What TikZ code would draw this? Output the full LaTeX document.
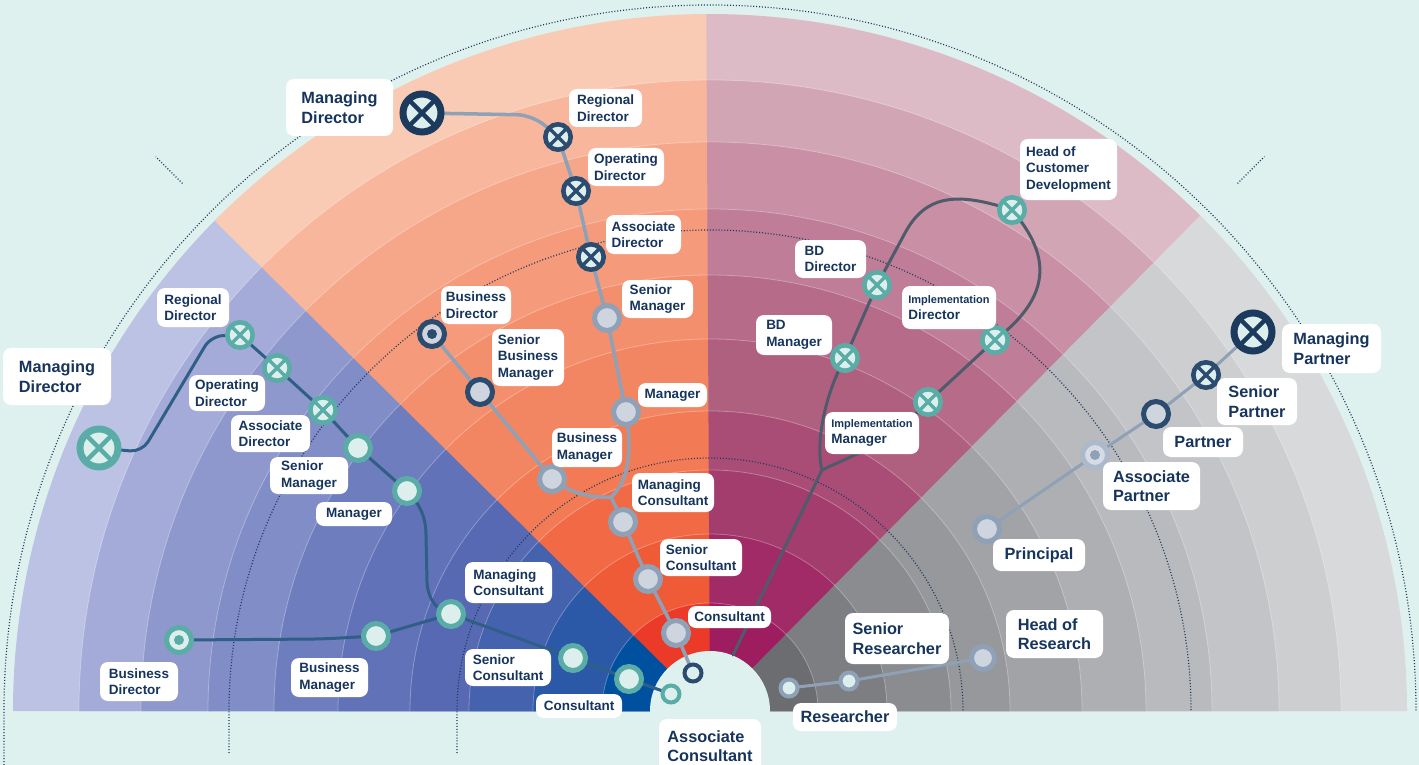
\documentclass[tikz,border=0pt]{standalone}
\usepackage{fontspec}
\setmainfont{Liberation Sans}
\usetikzlibrary{calc}

\definecolor{bgmint}{HTML}{DFF1EE}
\definecolor{mint}{HTML}{DCEFED}
\definecolor{navyd}{HTML}{1B3A5E}
\definecolor{navym}{HTML}{2C4C6F}
\definecolor{gblue}{HTML}{8FA1B6}
\definecolor{gfill}{HTML}{CFD5DF}
\definecolor{aplight}{HTML}{ABB9CA}
\definecolor{apfill}{HTML}{D6DCE5}
\definecolor{tealc}{HTML}{5AADA7}
\definecolor{txt}{HTML}{17345C}
\definecolor{bluel}{HTML}{2F5F86}
\definecolor{slatel}{HTML}{4F5A6A}
% ring colours, innermost (1) to outermost (10)
\definecolor{rb1}{HTML}{0050A0}\definecolor{rb2}{HTML}{2B58A7}\definecolor{rb3}{HTML}{4462AD}
\definecolor{rb4}{HTML}{5769B3}\definecolor{rb5}{HTML}{6272B8}\definecolor{rb6}{HTML}{6E7DBE}
\definecolor{rb7}{HTML}{808DC6}\definecolor{rb8}{HTML}{8E98CC}\definecolor{rb9}{HTML}{A4ABD8}
\definecolor{rb10}{HTML}{BCC2E3}
\definecolor{ro1}{HTML}{EC3A28}\definecolor{ro2}{HTML}{EF5A37}\definecolor{ro3}{HTML}{F16A45}
\definecolor{ro4}{HTML}{F27B55}\definecolor{ro5}{HTML}{F38662}\definecolor{ro6}{HTML}{F48F6D}
\definecolor{ro7}{HTML}{F59B7C}\definecolor{ro8}{HTML}{F6A689}\definecolor{ro9}{HTML}{F8B79D}
\definecolor{ro10}{HTML}{F9CAB4}
\definecolor{rp1}{HTML}{9E1C60}\definecolor{rp2}{HTML}{A12B66}\definecolor{rp3}{HTML}{A33D6D}
\definecolor{rp4}{HTML}{A94C76}\definecolor{rp5}{HTML}{B0607F}\definecolor{rp6}{HTML}{B66C89}
\definecolor{rp7}{HTML}{BF7D97}\definecolor{rp8}{HTML}{C88FA5}\definecolor{rp9}{HTML}{D2A5B4}
\definecolor{rp10}{HTML}{DCBBC7}
\definecolor{rg1}{HTML}{6C6D71}\definecolor{rg2}{HTML}{7D7E82}\definecolor{rg3}{HTML}{8B8C90}
\definecolor{rg4}{HTML}{97989C}\definecolor{rg5}{HTML}{A2A3A7}\definecolor{rg6}{HTML}{AEAFB2}
\definecolor{rg7}{HTML}{B9BABD}\definecolor{rg8}{HTML}{C3C4C7}\definecolor{rg9}{HTML}{CDCED0}
\definecolor{rg10}{HTML}{D8D9DB}

\pgfdeclarelayer{rings}
\pgfdeclarelayer{links}
\pgfsetlayers{rings,links,main}

\tikzset{
  ringbase/.style 2 args={circle, inner sep=0pt, outer sep=0pt, draw=#1, fill=#2},
  bigx/.style={ringbase={#1}{mint}, line width=7pt, minimum size=38pt,
    path picture={\draw[#1, line width=4.5pt]
      (path picture bounding box.north west) -- (path picture bounding box.south east)
      (path picture bounding box.north east) -- (path picture bounding box.south west);}},
  smallx/.style={ringbase={#1}{mint}, line width=4.6pt, minimum size=25.4pt,
    path picture={\draw[#1, line width=3.4pt]
      (path picture bounding box.north west) -- (path picture bounding box.south east)
      (path picture bounding box.north east) -- (path picture bounding box.south west);}},
  ringnode/.style 2 args={ringbase={#1}{#2}, line width=5pt, minimum size=25pt},
  dotring/.style n args={3}{ringbase={#1}{#2}, line width=5pt, minimum size=25pt,
    path picture={\fill[#3] (path picture bounding box.center) circle[radius=5pt];}},
  smallring/.style 2 args={ringbase={#1}{#2}, line width=4pt, minimum size=17pt},
  dotl/.style={draw=navyd, line width=1.2pt, dash pattern=on 1pt off 1.9pt},
  oline/.style={draw=gblue, line width=3.5pt, line cap=round},
  bline/.style={draw=bluel, line width=3pt, line cap=round},
  pline/.style={draw=slatel, line width=3pt, line cap=round},
  gline/.style={draw=gblue, line width=3pt, line cap=round},
  lab/.style 2 args={fill=white, rounded corners=8pt, text=txt, align=left,
    inner sep=0pt, minimum width=#1pt, minimum height=#2pt},
  labs/.style 2 args={lab={#1}{#2}, font=\bfseries\fontsize{13.5pt}{16.5pt}\selectfont},
  labb/.style 2 args={lab={#1}{#2}, font=\bfseries\fontsize{16.3pt}{19.5pt}\selectfont},
}

\begin{document}
\begin{tikzpicture}[x=1pt,y=-1pt]
\useasboundingbox (0,0) rectangle (1419,765);

% ---------- fan of career rings ----------
\begin{pgfonlayer}{rings}
\fill[bgmint] (0,0) rectangle (1419,765);
\begin{scope}[shift={(710,711)}]
  \foreach \r/\k in {697/10,631/9,569/8,502/7,436/6,372/5,300/4,241/3,177/2,108/1}{
    \fill[fill=rb\k] (0,0) -- (180:\r) arc[start angle=180,end angle=225.3,radius=\r] -- cycle;
    \fill[fill=ro\k] (0,0) -- (224.7:\r) arc[start angle=224.7,end angle=270.3,radius=\r] -- cycle;
    \fill[fill=rp\k] (0,0) -- (269.7:\r) arc[start angle=269.7,end angle=315.3,radius=\r] -- cycle;
    \fill[fill=rg\k] (0,0) -- (314.7:\r) arc[start angle=314.7,end angle=360,radius=\r] -- cycle;
  }
  \foreach \r in {108,177,241,300,372,436,502,569,631}
    \draw[white, opacity=.3, line width=.8pt] (180:\r) arc[start angle=180,end angle=360,radius=\r];
  \fill[bgmint] (0,0) circle[radius=60];
  % dotted guide arcs
  \draw[dotl] (-706,54) -- (180:706) arc[start angle=180,end angle=360,radius=706];
  \draw[dotl] (-481,42) -- (180:481) arc[start angle=180,end angle=360,radius=481];
  \draw[dotl] (-253,42) -- (180:253) arc[start angle=180,end angle=360,radius=253];
  \draw[dotl] (225:746) -- (225:784);
  \draw[dotl] (315:746) -- (315:784);
\end{scope}
\end{pgfonlayer}

% ---------- orange track ----------
\node[bigx=navyd] (mdo) at (422,113) {};
\node[smallx=navym] (rdo) at (558,137) {};
\node[smallx=navym] (odo) at (576,191) {};
\node[smallx=navym] (ado) at (591,257) {};
\node[ringnode={gblue}{gfill}] (smo) at (607,318) {};
\node[ringnode={gblue}{gfill}] (mo) at (626,412) {};
\node[dotring={navym}{gfill}{navym}] (bdo) at (432,334) {};
\node[ringnode={navym}{gfill}] (sbmo) at (480,392) {};
\node[ringnode={gblue}{gfill}] (bmo) at (552,479) {};
\node[ringnode={gblue}{gfill}] (mco) at (623,522) {};
\node[ringnode={gblue}{gfill}] (sco) at (648,579) {};
\node[ringnode={gblue}{gfill}] (co) at (676,633) {};
\node[smallring={navym}{mint}] (aco) at (693,673) {};

% ---------- blue track ----------
\node[bigx=tealc] (mdb) at (99,448) {};
\node[smallx=tealc] (rdb) at (240,335) {};
\node[smallx=tealc] (odb) at (277,368) {};
\node[smallx=tealc] (adb) at (323,410) {};
\node[ringnode={tealc}{mint}] (smb) at (358,448) {};
\node[ringnode={tealc}{mint}] (mb) at (407,491) {};
\node[dotring={tealc}{mint}{tealc}] (bdb) at (179,640) {};
\node[ringnode={tealc}{mint}] (bmb) at (376,636) {};
\node[ringnode={tealc}{mint}] (mcb) at (451,614) {};
\node[ringnode={tealc}{mint}] (scb) at (573,658) {};
\node[ringnode={tealc}{mint}] (cb) at (629,679) {};
\node[smallring={tealc}{mint}] (acb) at (671,694) {};

% ---------- pink track ----------
\node[smallx=tealc] (hcd) at (1012,210) {};
\node[smallx=tealc] (bdd) at (877,285) {};
\node[smallx=tealc] (bdm) at (845,358) {};
\node[smallx=tealc] (imd) at (995,340) {};
\node[smallx=tealc] (imm) at (928,402) {};

% ---------- grey track ----------
\node[bigx=navyd] (mp) at (1253,332) {};
\node[smallx=navym] (sp) at (1206,375) {};
\node[ringnode={navym}{gfill}] (pa) at (1156,414) {};
\node[dotring={aplight}{apfill}{gblue}] (ap) at (1095,455) {};
\node[ringnode={gblue}{gfill}] (pr) at (987,529) {};
\node[ringnode={gblue}{gfill}, minimum size=23pt] (hor) at (983,658) {};
\node[smallring={gblue}{mint}] (sr) at (849,681) {};
\node[smallring={gblue}{mint}] (re) at (789,688) {};

% ---------- connectors ----------
\begin{pgfonlayer}{links}
  \draw[oline, rounded corners=16pt] (mdo.center) -- (533,115) -- (rdo.center);
  \draw[oline] (rdo.center) -- (odo.center) -- (ado.center) -- (smo.center) -- (mo.center);
  \coordinate (oj) at (611,497);
  \draw[oline] (mo.center) .. controls (634,462) and (624,486) .. (oj)
     -- (mco.center) -- (sco.center) -- (co.center) -- (aco.center);
  \draw[oline] (bdo.center) -- (sbmo.center) -- (bmo.center) .. controls (572,495) and (595,498) .. (oj);

  \draw[bline, rounded corners=12pt] (mdb.center) -- (142,452) -- (211,336) -- (rdb.center);
  \draw[bline] (rdb.center) -- (odb.center) -- (adb.center) -- (smb.center) -- (mb.center);
  \coordinate (bk1) at (426,535);
  \coordinate (bk2) at (427,582);
  \draw[bline] (mb.center) .. controls (418,502) and (426,515) .. (bk1) -- (bk2)
     .. controls (428,600) and (438,612) .. (mcb.center);
  \draw[bline, rounded corners=14pt] (bdb.center) -- (322,639) -- (bmb.center);
  \draw[bline] (bmb.center) -- (mcb.center) -- (scb.center) -- (cb.center) -- (acb.center);

  \coordinate (pk) at (905,233);
  \coordinate (pj) at (822,470);
  \coordinate (pend) at (733,655);
  \draw[pline] (hcd.center) .. controls (958,192) and (926,194) .. (pk) -- (bdd.center) -- (bdm.center);
  \draw[pline] (bdm.center) .. controls (822,400) and (816,448) .. (pj) -- (pend);
  \draw[pline] (hcd.center) .. controls (1046,250) and (1058,292) .. (imd.center) -- (imm.center)
     .. controls (882,448) and (846,458) .. (pj);

  \draw[gline] (mp.center) -- (sp.center) -- (pa.center) -- (ap.center) -- (pr.center);
  \draw[gline] (re.center) -- (sr.center) -- (hor.center);
\end{pgfonlayer}

% ---------- labels ----------
\node[labb={107}{57}] (lmdo) at (339.5,107.5) {Managing\\Director};
\node[labs={73}{38}] (lrdo) at (605.5,108) {Regional\\Director};
\node[labs={76}{38}] (lodo) at (626,167) {Operating\\Director};
\node[labs={75}{39}] (lado) at (643.5,234.5) {Associate\\Director};
\node[labs={71}{38}] (lsmo) at (657.5,299) {Senior\\Manager};
\node[labs={69}{24}] (lmo) at (672.5,395) {Manager};
\node[labs={70}{38}] (lbdo) at (476,305) {Business\\Director};
\node[labs={72}{57}] (lsbmo) at (528,357.5) {Senior\\Business\\Manager};
\node[labs={70}{39}] (lbmo) at (587,447.5) {Business\\Manager};
\node[labs={82}{39}] (lmco) at (673,492.5) {Managing\\Consultant};
\node[labs={82}{37}] (lsco) at (701,557.5) {Senior\\Consultant};
\node[labs={83}{22}] (lco) at (729.5,617) {Consultant};
\node[labb={102}{54}] (laco) at (710,746) {Associate\\Consultant};

\node[labb={108}{57}] (lmdb) at (57,376.5) {Managing\\Director};
\node[labs={72}{39}] (lrdb) at (193,307.5) {Regional\\Director};
\node[labs={76}{36}] (lodb) at (227,393) {Operating\\Director};
\node[labs={79}{37}] (ladb) at (270.5,433.5) {Associate\\Director};
\node[labs={78}{37}] (lsmb) at (309,475.5) {Senior\\Manager};
\node[labs={76}{24}] (lmb) at (354,514) {Manager};
\node[labs={78}{39}] (lbdb) at (139,681.5) {Business\\Director};
\node[labs={77}{39}] (lbmb) at (329.5,677.5) {Business\\Manager};
\node[labs={87}{41}] (lmcb) at (508.5,582.5) {Managing\\Consultant};
\node[labs={86}{37}] (lscb) at (508,667.5) {Senior\\Consultant};
\node[labs={86}{24}] (lcb) at (579,706) {Consultant};

\node[labs={97}{61}] (lhcd) at (1068.5,169.5) {Head of\\Customer\\Development};
\node[labs={71}{38}] (lbdd) at (830.5,259) {BD\\Director};
\node[labs={76}{40}] (lbdm) at (794,335) {BD\\Manager};
\node[labs={94}{43}] (limd) at (949,307.5) {{\fontsize{11pt}{13pt}\selectfont Implementation}\\Director};
\node[labs={94}{42}] (limm) at (872,433) {{\fontsize{11pt}{13pt}\selectfont Implementation}\\Manager};

\node[labb={99}{49}] (lmp) at (1331.5,348.5) {Managing\\Partner};
\node[labb={80}{47}] (lsp) at (1257,401.5) {Senior\\Partner};
\node[labb={80}{30}] (lpa) at (1203,442) {Partner};
\node[labb={97}{48}] (lap) at (1151.5,486) {Associate\\Partner};
\node[labb={92}{32}] (lpr) at (1039,555) {Principal};
\node[labb={97}{48}] (lhor) at (1054.5,634) {Head of\\Research};
\node[labb={104}{51}] (lsr) at (897,638.5) {Senior\\Researcher};
\node[labb={104}{28}] (lre) at (845,717) {Researcher};
\end{tikzpicture}
\end{document}
